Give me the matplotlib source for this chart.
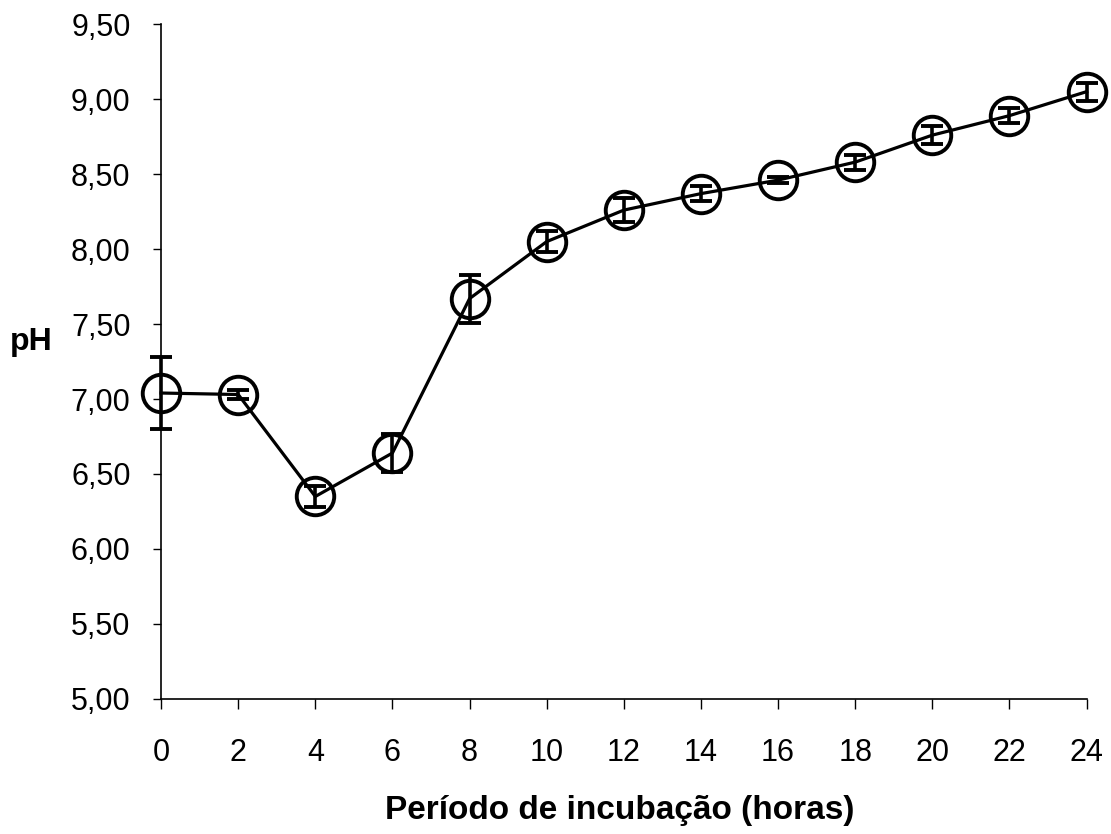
import numpy as np
import matplotlib
matplotlib.use('Agg')
from matplotlib import pyplot as plt
from matplotlib.ticker import FuncFormatter

# pH during incubation, mean and deviation at each sampling time
horas = [0, 2, 4, 6, 8, 10, 12, 14, 16, 18, 20, 22, 24]
ph = [7.04, 7.03, 6.35, 6.64, 7.67, 8.05, 8.26, 8.37, 8.46, 8.58, 8.76, 8.89, 9.05]
desvio = [0.24, 0.03, 0.07, 0.13, 0.16, 0.07, 0.08, 0.05, 0.02, 0.05, 0.06, 0.05, 0.06]

plt.rcParams['font.family'] = ['Liberation Sans', 'DejaVu Sans']

fig = plt.figure(figsize=(11.11, 8.34), dpi=100)
ax = fig.add_axes([0.145, 0.162, 0.833, 0.809])

ax.errorbar(horas, ph, yerr=desvio, fmt='-o', color='black', lw=2.3,
            ms=27, mfc='none', mec='black', mew=2.8,
            ecolor='black', elinewidth=2.6, capsize=8, capthick=2.6,
            clip_on=False, zorder=3)

ax.set_xlim(0, 24)
ax.set_ylim(5.0, 9.5)
ax.set_xticks(np.arange(0, 25, 2))
ax.set_yticks(np.arange(5.0, 9.51, 0.5))
ax.yaxis.set_major_formatter(FuncFormatter(lambda v, p: '{:.2f}'.format(v).replace('.', ',')))

for s in ['top', 'right']:
    ax.spines[s].set_visible(False)
for s in ['left', 'bottom']:
    ax.spines[s].set_linewidth(1.2)

ax.tick_params(axis='y', length=6, width=1, pad=16, labelsize=22)
ax.tick_params(axis='x', length=7, width=1, pad=21, labelsize=22)

ax.set_xlabel('Período de incubação (horas)', fontsize=24, fontweight='bold')
ax.xaxis.set_label_coords(0.496, -0.142)
ax.set_ylabel('pH', fontsize=23, fontweight='bold', rotation=0, va='center')
ax.yaxis.set_label_coords(-0.14, 0.529)

plt.savefig('out.png', dpi=100)
